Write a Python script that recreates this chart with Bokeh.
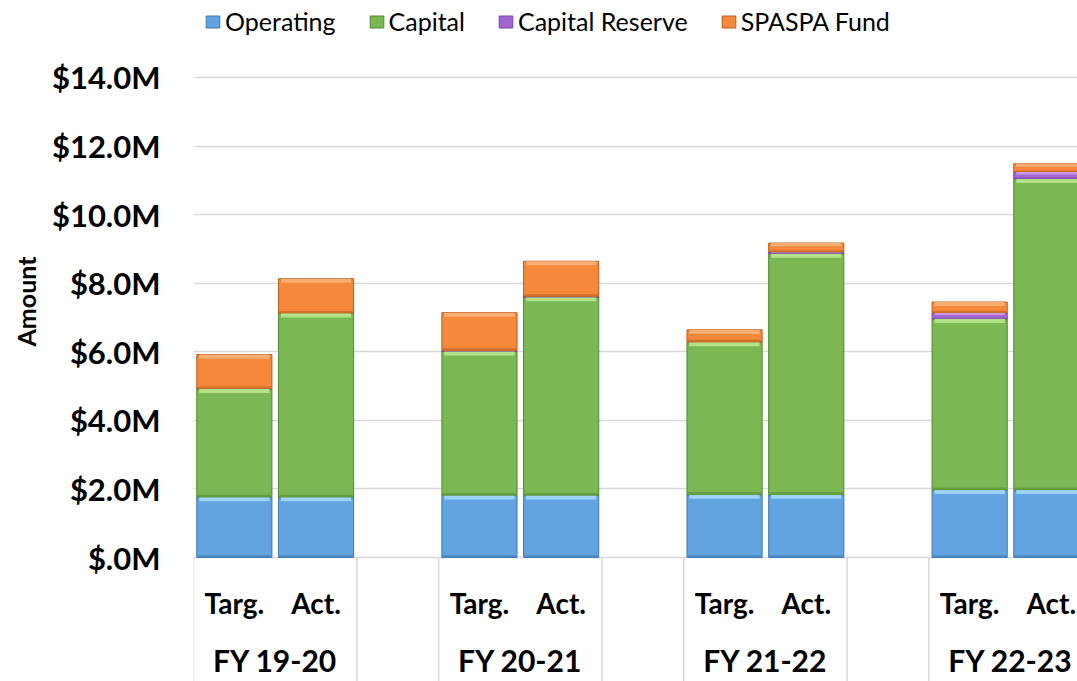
import math
from bokeh.plotting import figure
from bokeh.models import ColumnDataSource, FixedTicker, Title
from bokeh.core.properties import value
from bokeh.embed import file_html
from bokeh.resources import INLINE

# ---- data ----
fiscal_years = ["FY 19-20", "FY 20-21", "FY 21-22", "FY 22-23"]
bar_kinds = ["Targ.", "Act."]
operating = [1.76, 1.76, 1.81, 1.81, 1.83, 1.83, 1.97, 1.97]
capital = [3.16, 5.36, 4.20, 5.78, 4.45, 7.03, 4.99, 9.07]
capital_reserve = [0.0, 0.0, 0.02, 0.02, 0.0, 0.05, 0.17, 0.20]
spaspa_fund = [1.00, 1.01, 1.11, 1.03, 0.36, 0.26, 0.32, 0.24]
series_names = ["Operating", "Capital", "Capital Reserve", "SPASPA Fund"]
y_ticks = [0, 2, 4, 6, 8, 10, 12, 14]
y_tick_labels = ["$.0M", "$2.0M", "$4.0M", "$6.0M", "$8.0M", "$10.0M", "$12.0M", "$14.0M"]

# ---- styles ----
FONT = "Lato"
fill_colors = ["#62A4E0", "#7BB752", "#A366D0", "#F5883B"]
edge_colors = ["#3F78AE", "#4F8A30", "#7A44A3", "#B85E1E"]
light_colors = ["#A6D8F8", "#B9E88F", "#CFA0EE", "#F9B27A"]
dark_colors = ["#4A86BE", "#5F9A3C", "#8450AE", "#C96A25"]
SLOTS = 3  # Targ., Act., gap
Y_LO, Y_HI = -3.616, 16.244

xs = [SLOTS * g + k + 0.5 for g in range(len(fiscal_years)) for k in range(len(bar_kinds))]
kind_labels = [bar_kinds[k] for g in range(len(fiscal_years)) for k in range(len(bar_kinds))]
keys = ["operating", "capital", "capital_reserve", "spaspa_fund"]
series = [operating, capital, capital_reserve, spaspa_fund]

src = ColumnDataSource(dict(x=xs, operating=operating, capital=capital,
                            capital_reserve=capital_reserve, spaspa_fund=spaspa_fund))

p = figure(width=1077, height=681, x_range=(0, 10.82), y_range=(Y_LO, Y_HI),
           output_backend="svg", toolbar_location=None,
           min_border_left=193, min_border_right=0, min_border_top=0, min_border_bottom=0)
p.outline_line_color = None
p.background_fill_color = "white"

# grid
p.xgrid.visible = False
p.ygrid.ticker = FixedTicker(ticks=y_ticks)
p.ygrid.grid_line_color = "#D9D9D9"
p.ygrid.grid_line_width = 1.5

# stacked bars
p.vbar_stack(keys, x="x", width=0.92, source=src, color=fill_colors,
             line_color=edge_colors, line_width=1, legend_label=series_names)

# bevel: light band at top, darker band at bottom of each segment
bottoms = [0.0] * len(xs)
for si, vals in enumerate(series):
    tops = [b + v for b, v in zip(bottoms, vals)]
    hl = [min(0.12, 0.35 * v) for v in vals]
    dk = [min(0.07, 0.2 * v) for v in vals]
    p.vbar(x=xs, top=tops, bottom=[t - h for t, h in zip(tops, hl)], width=0.86,
           fill_color=light_colors[si], line_color=None, fill_alpha=0.9)
    p.vbar(x=xs, top=[b + d for b, d in zip(bottoms, dk)], bottom=bottoms, width=0.9,
           fill_color=dark_colors[si], line_color=None, fill_alpha=0.8)
    bottoms = tops

# category separators below the axis
seps = []
for g in range(len(fiscal_years)):
    seps += [SLOTS * g, SLOTS * g + len(bar_kinds)]
p.segment(x0=seps, y0=[0] * len(seps), x1=seps, y1=[Y_LO] * len(seps),
          line_color="#D9D9D9", line_width=1.5)

# x labels
p.text(x=xs, y=[-1.34] * len(xs), text=kind_labels, text_font=value(FONT),
       text_font_style="bold", text_font_size="28px", text_align="center",
       text_baseline="middle", text_color="black")
p.text(x=[SLOTS * g + 1 for g in range(len(fiscal_years))], y=[-3.0] * len(fiscal_years),
       text=fiscal_years, text_font=value(FONT), text_font_style="bold",
       text_font_size="30px", text_align="center", text_baseline="middle", text_color="black")

# axes
p.xaxis.visible = False
p.yaxis.ticker = FixedTicker(ticks=y_ticks)
p.yaxis.major_label_overrides = {t: l for t, l in zip(y_ticks, y_tick_labels)}
p.yaxis.axis_line_color = None
p.yaxis.major_tick_line_color = None
p.yaxis.major_tick_out = 0
p.yaxis.major_tick_in = 0
p.yaxis.minor_tick_line_color = None
p.yaxis.major_label_standoff = 33
p.yaxis.major_label_text_font = FONT
p.yaxis.major_label_text_font_style = "bold"
p.yaxis.major_label_text_font_size = "31px"
p.yaxis.major_label_text_color = "black"

ttl = Title(text="Amount", align="left", offset=335, text_font=FONT,
            text_font_style="bold", text_font_size="25px", text_color="black")
try:
    ttl.standoff = 15
except Exception:
    pass
p.add_layout(ttl, "left")

# legend
lg = p.legend[0]
lg.orientation = "horizontal"
lg.location = (11, 645)
lg.label_text_font = FONT
lg.label_text_font_size = "25px"
lg.label_text_color = "black"
lg.glyph_width = 17
lg.glyph_height = 15
lg.label_standoff = 4
lg.spacing = 32
lg.padding = 0
lg.margin = 0
lg.border_line_color = None
lg.background_fill_alpha = 0

open("out.html", "w").write(file_html(p, INLINE))
